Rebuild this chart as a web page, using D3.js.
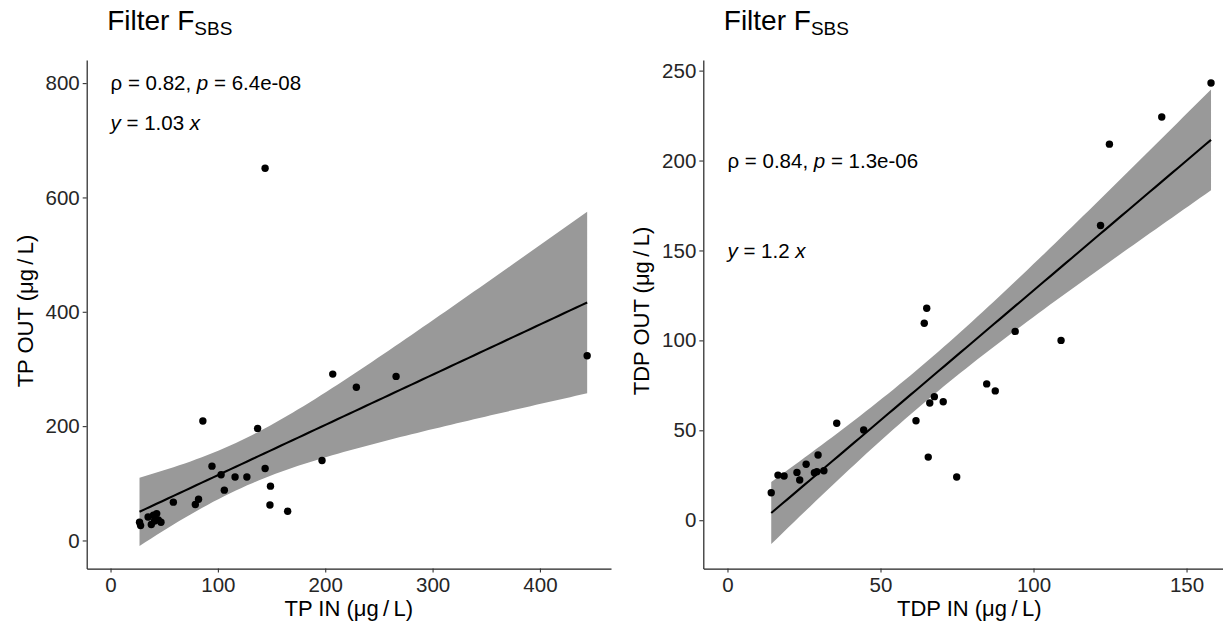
<!DOCTYPE html>
<html>
<head>
<meta charset="utf-8">
<script src="https://cdn.jsdelivr.net/npm/d3@7"></script>
<style>
  body { margin: 0; background: #fff; }
  .content { width: 1223px; height: 628px; }
  svg text { font-family: "Liberation Sans", Arial, sans-serif; }
</style>
</head>
<body>
<div class="content"></div>
<script>
// TP panel
var tpIn  = [27, 28, 35, 38, 40, 43, 44.5, 47, 41, 58.5, 79, 82, 86, 94.5, 103, 106, 116, 127, 137, 144, 144, 148.5, 149, 165, 197, 207, 229, 266, 444];
var tpOut = [32, 26, 41, 28, 44, 47, 36, 32, 34, 67, 63, 72, 209, 130, 115, 88, 111, 111, 196, 126, 651, 62, 95, 51, 140, 291, 268, 287, 323];
var tpXTicks = [0, 100, 200, 300, 400];
var tpYTicks = [0, 200, 400, 600, 800];

// TDP panel
var tdpIn  = [14.3, 16.5, 18.5, 22.7, 23.6, 25.7, 28.4, 29.2, 29.6, 31.5, 35.7, 44.5, 61.6, 64.3, 65.1, 65.6, 66.1, 67.6, 70.5, 74.9, 84.7, 87.5, 94, 109, 121.9, 124.8, 141.9, 158];
var tdpOut = [15.3, 25.1, 24.6, 26.6, 22.4, 31.1, 26.4, 27, 36.3, 27.5, 53.9, 50.2, 55.3, 109.5, 117.9, 35.1, 65.2, 68.7, 65.9, 24, 75.8, 71.9, 105, 100, 163.9, 209.1, 224.2, 243.1];
var tdpXTicks = [0, 50, 100, 150];
var tdpYTicks = [0, 50, 100, 150, 200, 250];

var svg = d3.select(".content")
  .append("svg")
  .attr("width", 1223)
  .attr("height", 628);

// t quantile (0.975), Cornish-Fisher approx
function tq(df) {
  var z = 1.959964;
  return z + (z*z*z + z) / (4*df) + (5*Math.pow(z,5) + 16*z*z*z + 3*z) / (96*df*df);
}

// linear fit + 95% CI like geom_smooth(method = "lm")
function lmBand(xs, ys) {
  var n = xs.length, mx = d3.mean(xs), my = d3.mean(ys);
  var sxx = d3.sum(xs, function(d) { return (d - mx) * (d - mx); });
  var sxy = d3.sum(xs, function(d, i) { return (d - mx) * (ys[i] - my); });
  var b = sxy / sxx, a = my - b * mx;
  var rss = d3.sum(xs, function(d, i) { var r = ys[i] - a - b * d; return r * r; });
  var s = Math.sqrt(rss / (n - 2)), t = tq(n - 2);
  var lo = d3.min(xs), hi = d3.max(xs);
  return d3.range(80).map(function(i) {
    var x = lo + (hi - lo) * i / 79;
    var fit = a + b * x;
    var se = s * Math.sqrt(1 / n + (x - mx) * (x - mx) / sxx);
    return { x: x, y: fit, ymin: fit - t * se, ymax: fit + t * se };
  });
}

function drawPanel(opt) {
  var x = d3.scaleLinear().domain(opt.xDomain).range(opt.xRange);
  var y = d3.scaleLinear().domain(opt.yDomain).range([568.6, 60]);
  var g = svg.append("g");
  var band = lmBand(opt.xs, opt.ys);

  g.append("path")
    .datum(band)
    .attr("d", d3.area()
      .x(function(d) { return x(d.x); })
      .y0(function(d) { return y(d.ymin); })
      .y1(function(d) { return y(d.ymax); }))
    .attr("fill", "#999999");

  g.append("path")
    .datum(band)
    .attr("d", d3.line()
      .x(function(d) { return x(d.x); })
      .y(function(d) { return y(d.y); }))
    .attr("fill", "none")
    .attr("stroke", "#000")
    .attr("stroke-width", 2.1);

  g.selectAll(".pt")
    .data(opt.xs)
    .enter()
    .append("circle")
    .attr("cx", function(d) { return x(d); })
    .attr("cy", function(d, i) { return y(opt.ys[i]); })
    .attr("r", 3.7)
    .attr("fill", "#000");

  var axX = g.append("g")
    .attr("transform", "translate(0,568.6)")
    .call(d3.axisBottom(x).tickValues(opt.xTicks).tickSize(4).tickSizeOuter(0).tickPadding(4.5));
  var axY = g.append("g")
    .attr("transform", "translate(" + opt.xRange[0] + ",0)")
    .call(d3.axisLeft(y).tickValues(opt.yTicks).tickSize(4).tickSizeOuter(0).tickPadding(3));

  [axX, axY].forEach(function(ax) {
    ax.select(".domain").attr("stroke", "#222").attr("stroke-width", 1.2);
    ax.selectAll(".tick line").attr("stroke", "#333").attr("stroke-width", 1.1);
    ax.selectAll("text").attr("fill", "#262626").style("font-size", "20.5px");
  });

  // title
  var title = svg.append("text")
    .attr("x", opt.xRange[0] + 20.5)
    .attr("y", 30)
    .attr("fill", "#000")
    .style("font-size", "28px")
    .text("Filter F");
  title.append("tspan").attr("dy", 5).style("font-size", "19px").text("SBS");

  // annotations
  var r1 = g.append("text")
    .attr("x", x(0)).attr("y", y(opt.rhoY)).attr("dy", "0.36em")
    .style("font-size", "20.5px").attr("fill", "#000");
  r1.append("tspan").text("ρ = " + opt.rho + ", ");
  r1.append("tspan").style("font-style", "italic").text("p");
  r1.append("tspan").text(" = " + opt.p);

  var r2 = g.append("text")
    .attr("x", x(0)).attr("y", y(opt.eqY)).attr("dy", "0.36em")
    .style("font-size", "20.5px").attr("fill", "#000");
  r2.append("tspan").style("font-style", "italic").text("y");
  r2.append("tspan").text(" = " + opt.slope + " ");
  r2.append("tspan").style("font-style", "italic").text("x");

  // axis titles
  svg.append("text")
    .attr("x", (opt.xRange[0] + opt.xRange[1]) / 2)
    .attr("y", 616)
    .attr("text-anchor", "middle")
    .style("font-size", "22px")
    .text(opt.xLabel);

  svg.append("text")
    .attr("transform", "translate(" + (opt.xRange[0] - 54) + ",311) rotate(-90)")
    .attr("text-anchor", "middle")
    .style("font-size", "22px")
    .text(opt.yLabel);
}

drawPanel({
  xs: tpIn, ys: tpOut,
  xTicks: tpXTicks, yTicks: tpYTicks,
  xDomain: [-22.2, 466.2], xRange: [86.7, 611],
  yDomain: [-49.2, 840.4],
  rho: "0.82", p: "6.4e-08", slope: "1.03",
  rhoY: 800, eqY: 730,
  xLabel: "TP IN (μg\u2009/\u2009L)", yLabel: "TP OUT (μg\u2009/\u2009L)"
});

drawPanel({
  xs: tdpIn, ys: tdpOut,
  xTicks: tdpXTicks, yTicks: tdpYTicks,
  xDomain: [-7.9, 165.9], xRange: [703.3, 1235.2],
  yDomain: [-26.9, 255.9],
  rho: "0.84", p: "1.3e-06", slope: "1.2",
  rhoY: 200, eqY: 150,
  xLabel: "TDP IN (μg\u2009/\u2009L)", yLabel: "TDP OUT (μg\u2009/\u2009L)"
});
</script>
</body>
</html>
